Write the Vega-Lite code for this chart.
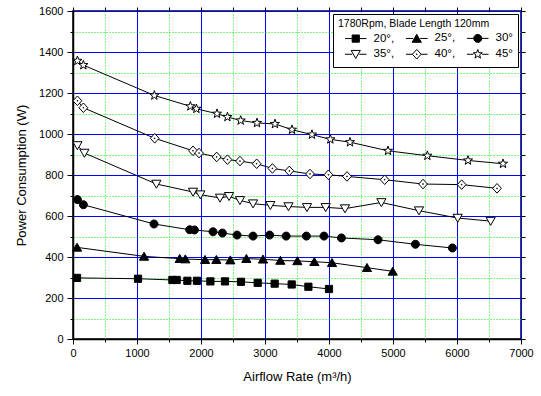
{
  "$schema": "https://vega.github.io/schema/vega-lite/v6.json",
  "autosize": {"type": "none"},
  "width": 448,
  "height": 328,
  "padding": {"left": 73, "top": 11, "right": 20, "bottom": 57},
  "background": "white",
  "config": {
    "view": {"stroke": "black", "strokeWidth": 1.5},
    "font": "Liberation Sans"
  },
  "data": {
    "values": [
      {"series": "20", "x": 63, "y": 298}, {"series": "20", "x": 1016, "y": 294}, {"series": "20", "x": 1553, "y": 288}, {"series": "20", "x": 1620, "y": 288}, {"series": "20", "x": 1787, "y": 284}, {"series": "20", "x": 1937, "y": 284}, {"series": "20", "x": 2147, "y": 281}, {"series": "20", "x": 2375, "y": 281}, {"series": "20", "x": 2625, "y": 279}, {"series": "20", "x": 2886, "y": 274}, {"series": "20", "x": 3151, "y": 270}, {"series": "20", "x": 3417, "y": 266}, {"series": "20", "x": 3678, "y": 255}, {"series": "20", "x": 4000, "y": 244},
      {"series": "25", "x": 63, "y": 447}, {"series": "25", "x": 1110, "y": 403}, {"series": "25", "x": 1667, "y": 392}, {"series": "25", "x": 1755, "y": 390}, {"series": "25", "x": 2063, "y": 387}, {"series": "25", "x": 2240, "y": 387}, {"series": "25", "x": 2458, "y": 385}, {"series": "25", "x": 2709, "y": 392}, {"series": "25", "x": 2969, "y": 389}, {"series": "25", "x": 3240, "y": 383}, {"series": "25", "x": 3506, "y": 381}, {"series": "25", "x": 3771, "y": 377}, {"series": "25", "x": 4047, "y": 372}, {"series": "25", "x": 4594, "y": 348}, {"series": "25", "x": 4995, "y": 330},
      {"series": "30", "x": 69, "y": 680}, {"series": "30", "x": 162, "y": 655}, {"series": "30", "x": 1266, "y": 561}, {"series": "30", "x": 1823, "y": 533}, {"series": "30", "x": 1897, "y": 532}, {"series": "30", "x": 2188, "y": 523}, {"series": "30", "x": 2334, "y": 517}, {"series": "30", "x": 2563, "y": 507}, {"series": "30", "x": 2813, "y": 502}, {"series": "30", "x": 3073, "y": 507}, {"series": "30", "x": 3330, "y": 502}, {"series": "30", "x": 3646, "y": 502}, {"series": "30", "x": 3922, "y": 502}, {"series": "30", "x": 4194, "y": 493}, {"series": "30", "x": 4766, "y": 484}, {"series": "30", "x": 5350, "y": 462}, {"series": "30", "x": 5928, "y": 444},
      {"series": "35", "x": 69, "y": 944}, {"series": "35", "x": 178, "y": 907}, {"series": "35", "x": 1303, "y": 756}, {"series": "35", "x": 1875, "y": 717}, {"series": "35", "x": 1990, "y": 704}, {"series": "35", "x": 2297, "y": 688}, {"series": "35", "x": 2438, "y": 696}, {"series": "35", "x": 2609, "y": 676}, {"series": "35", "x": 2813, "y": 660}, {"series": "35", "x": 3084, "y": 652}, {"series": "35", "x": 3367, "y": 646}, {"series": "35", "x": 3656, "y": 642}, {"series": "35", "x": 3948, "y": 642}, {"series": "35", "x": 4250, "y": 636}, {"series": "35", "x": 4818, "y": 666}, {"series": "35", "x": 5406, "y": 626}, {"series": "35", "x": 6011, "y": 590}, {"series": "35", "x": 6526, "y": 575},
      {"series": "40", "x": 69, "y": 1162}, {"series": "40", "x": 162, "y": 1128}, {"series": "40", "x": 1277, "y": 979}, {"series": "40", "x": 1875, "y": 918}, {"series": "40", "x": 1969, "y": 907}, {"series": "40", "x": 2245, "y": 888}, {"series": "40", "x": 2413, "y": 875}, {"series": "40", "x": 2609, "y": 868}, {"series": "40", "x": 2870, "y": 855}, {"series": "40", "x": 3116, "y": 832}, {"series": "40", "x": 3380, "y": 820}, {"series": "40", "x": 3703, "y": 805}, {"series": "40", "x": 3990, "y": 801}, {"series": "40", "x": 4281, "y": 793}, {"series": "40", "x": 4870, "y": 777}, {"series": "40", "x": 5469, "y": 756}, {"series": "40", "x": 6073, "y": 753}, {"series": "40", "x": 6625, "y": 735},
      {"series": "45", "x": 69, "y": 1357}, {"series": "45", "x": 162, "y": 1336}, {"series": "45", "x": 1271, "y": 1188}, {"series": "45", "x": 1834, "y": 1135}, {"series": "45", "x": 1928, "y": 1123}, {"series": "45", "x": 2250, "y": 1099}, {"series": "45", "x": 2413, "y": 1083}, {"series": "45", "x": 2620, "y": 1066}, {"series": "45", "x": 2875, "y": 1054}, {"series": "45", "x": 3156, "y": 1049}, {"series": "45", "x": 3422, "y": 1021}, {"series": "45", "x": 3734, "y": 997}, {"series": "45", "x": 4021, "y": 974}, {"series": "45", "x": 4328, "y": 960}, {"series": "45", "x": 4922, "y": 918}, {"series": "45", "x": 5537, "y": 894}, {"series": "45", "x": 6172, "y": 871}, {"series": "45", "x": 6719, "y": 855}
    ]
  },
  "layer": [
    {
      "mark": {"type": "line", "stroke": "black", "strokeWidth": 1},
      "encoding": {
        "x": {
          "field": "x", "type": "quantitative",
          "scale": {"domain": [0, 7000], "nice": false, "zero": false},
          "axis": {
            "orient": "bottom",
            "title": "Airflow Rate (m³/h)",
            "titleFont": "Liberation Sans", "titleFontSize": 13, "titleFontWeight": "normal", "titleColor": "black", "titlePadding": 12,
            "values": [0, 500, 1000, 1500, 2000, 2500, 3000, 3500, 4000, 4500, 5000, 5500, 6000, 6500, 7000],
            "labelExpr": "datum.value % 1000 === 0 ? datum.label : ''",
            "format": "d",
            "labelFont": "Liberation Sans", "labelFontSize": 11, "labelColor": "black", "labelPadding": 3,
            "labelFlush": false, "labelOverlap": false,
            "domainColor": "black", "domainWidth": 1.5,
            "tickColor": "black", "tickWidth": 1,
            "tickSize": {"condition": {"test": "datum.value % 1000 === 0", "value": 5}, "value": 3},
            "grid": true,
            "gridColor": {"condition": {"test": "datum.value % 1000 === 0", "value": "#0000ff"}, "value": "#00ee00"},
            "gridDash": {"condition": {"test": "datum.value % 1000 === 0", "value": []}, "value": [1, 2]},
            "gridWidth": 1, "gridOpacity": 1
          }
        },
        "y": {
          "field": "y", "type": "quantitative",
          "scale": {"domain": [0, 1600], "nice": false, "zero": false},
          "axis": {
            "orient": "left",
            "title": "Power Consumption (W)",
            "titleFont": "Liberation Sans", "titleFontSize": 13, "titleFontWeight": "normal", "titleColor": "black", "titlePadding": 10,
            "values": [0, 100, 200, 300, 400, 500, 600, 700, 800, 900, 1000, 1100, 1200, 1300, 1400, 1500, 1600],
            "labelExpr": "datum.value % 200 === 0 ? datum.label : ''",
            "format": "d",
            "labelFont": "Liberation Sans", "labelFontSize": 11, "labelColor": "black", "labelPadding": 4,
            "labelFlush": false, "labelOverlap": false,
            "domainColor": "black", "domainWidth": 1.5,
            "tickColor": "black", "tickWidth": 1,
            "tickSize": {"condition": {"test": "datum.value % 200 === 0", "value": 6}, "value": 3},
            "grid": true,
            "gridColor": {"condition": {"test": "datum.value % 200 === 0", "value": "#0000ff"}, "value": "#00ee00"},
            "gridDash": {"condition": {"test": "datum.value % 200 === 0", "value": []}, "value": [1, 2]},
            "gridWidth": 1, "gridOpacity": 1
          }
        },
        "detail": {"field": "series", "type": "nominal"}
      }
    },
    {
      "mark": {"type": "point", "filled": true, "stroke": "black", "strokeWidth": 1, "size": 64, "opacity": 1},
      "encoding": {
        "x": {
          "field": "x", "type": "quantitative",
          "axis": {
            "orient": "top", "title": null, "labels": false, "grid": false, "domain": false,
            "values": [0, 500, 1000, 1500, 2000, 2500, 3000, 3500, 4000, 4500, 5000, 5500, 6000, 6500, 7000],
            "tickColor": "black", "tickSize": 4
          }
        },
        "y": {
          "field": "y", "type": "quantitative",
          "axis": {
            "orient": "right", "title": null, "labels": false, "grid": false, "domain": false,
            "values": [0, 100, 200, 300, 400, 500, 600, 700, 800, 900, 1000, 1100, 1200, 1300, 1400, 1500, 1600],
            "tickColor": "black", "tickSize": 4
          }
        },
        "shape": {
          "field": "series", "type": "nominal",
          "scale": {
            "domain": ["20", "25", "30", "35", "40", "45"],
            "range": [
              "M-0.9,-0.9H0.9V0.9H-0.9Z",
              "M0,-1.05L1.15,0.95L-1.15,0.95Z",
              "M1,0A1,1,0,1,1,-1,0A1,1,0,1,1,1,0Z",
              "M0,1.05L1.15,-0.95L-1.15,-0.95Z",
              "M0,-1.2L1.1,0L0,1.2L-1.1,0ZM-0.08,-0.08H0.08V0.08H-0.08Z",
              "M0,-1.2L0.282,-0.389L1.141,-0.371L0.456,0.149L0.705,0.971L0,0.48L-0.705,0.971L-0.456,0.149L-1.141,-0.371L-0.282,-0.389Z"
            ]
          },
          "legend": null
        },
        "fill": {
          "field": "series", "type": "nominal",
          "scale": {"domain": ["20", "25", "30", "35", "40", "45"], "range": ["black", "black", "black", "white", "white", "white"]},
          "legend": null
        }
      }
    },
    {
      "transform": [{"filter": "false"}],
      "mark": {"type": "point", "filled": true, "strokeWidth": 1, "size": 64, "opacity": 1},
      "encoding": {
        "x": {"field": "x", "type": "quantitative", "axis": null},
        "y": {"field": "y", "type": "quantitative", "axis": null},
        "shape": {
          "field": "series", "type": "nominal",
          "scale": {
            "domain": ["20", "25", "30", "35", "40", "45"],
            "range": [
              "M-2.7,0H-0.9M0.9,0H2.7M-0.9,-0.9H0.9V0.9H-0.9Z",
              "M-2.7,0H-0.9M0.9,0H2.7M0,-1.05L1.15,0.95L-1.15,0.95Z",
              "M-2.7,0H-0.9M0.9,0H2.7M1,0A1,1,0,1,1,-1,0A1,1,0,1,1,1,0Z",
              "M-2.7,0H-0.9M0.9,0H2.7M0,1.05L1.15,-0.95L-1.15,-0.95Z",
              "M-2.7,0H-1.1M1.1,0H2.7M0,-1.2L1.1,0L0,1.2L-1.1,0ZM-0.08,-0.08H0.08V0.08H-0.08Z",
              "M-2.7,0H-1.1M1.1,0H2.7M0,-1.2L0.282,-0.389L1.141,-0.371L0.456,0.149L0.705,0.971L0,0.48L-0.705,0.971L-0.456,0.149L-1.141,-0.371L-0.282,-0.389Z"
            ]
          },
          "legend": {
            "title": "1780Rpm, Blade Length 120mm",
            "orient": "top-right",
            "offset": 3,
            "columns": 3,
            "direction": "horizontal",
            "titleFont": "Liberation Sans", "titleFontSize": 10.5, "titleFontWeight": "normal", "titleColor": "black", "titlePadding": 3,
            "labelFont": "Liberation Sans", "labelFontSize": 11.5, "labelColor": "black",
            "labelExpr": "datum.label + '°' + ((datum.label == '30' || datum.label == '45') ? '' : ',')",
            "labelOffset": 12,
            "symbolOffset": 12,
            "symbolSize": 64,
            "symbolStrokeWidth": 1,
            "symbolOpacity": 1,
            "columnPadding": 4,
            "rowPadding": 2,
            "strokeColor": "black",
            "fillColor": "white",
            "padding": 5,
            "cornerRadius": 0
          }
        },
        "fill": {
          "field": "series", "type": "nominal",
          "scale": {"domain": ["20", "25", "30", "35", "40", "45"], "range": ["black", "black", "black", "white", "white", "white"]},
          "legend": {"title": "1780Rpm, Blade Length 120mm"}
        },
        "stroke": {
          "field": "series", "type": "nominal",
          "scale": {"domain": ["20", "25", "30", "35", "40", "45"], "range": ["black", "black", "black", "black", "black", "black"]},
          "legend": {"title": "1780Rpm, Blade Length 120mm"}
        }
      }
    }
  ],
  "resolve": {
    "axis": {"x": "independent", "y": "independent"},
    "scale": {"shape": "independent", "fill": "independent", "stroke": "independent"},
    "legend": {"shape": "independent", "fill": "independent", "stroke": "independent"}
  }
}
